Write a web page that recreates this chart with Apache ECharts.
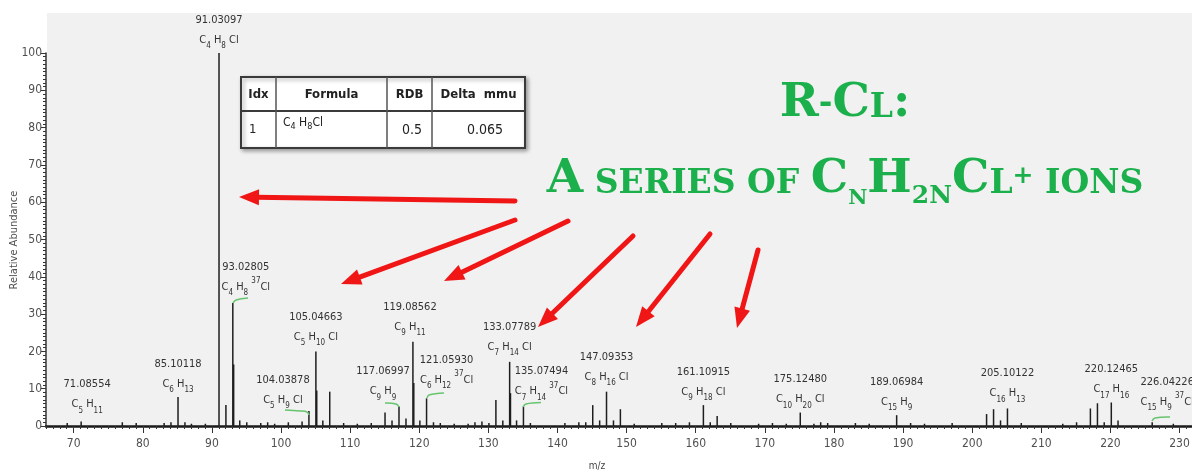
<!DOCTYPE html>
<html><head><meta charset="utf-8">
<script src="https://cdn.jsdelivr.net/npm/echarts@6/dist/echarts.min.js"></script>
<style>html,body{margin:0;padding:0;background:#fff}#c{width:1192px;height:472px}</style>
</head><body><div id="c"></div>
<script>
// ---------- data ----------
const peakMz = [69.07, 71.08554, 77.04, 79.05, 83.09, 84.08, 85.10118, 86.10, 87.04, 89.06, 91.03097, 92.03, 93.02805, 93.15, 94.03, 95.05, 97.07, 98.07, 99.08, 101.06, 103.05, 104.03878, 105.04663, 105.17, 106.05, 107.05, 109.06, 111.04, 113.06, 115.05, 116.06, 117.06997, 118.08, 119.08562, 119.21, 120.09, 121.05930, 122.06, 123.05, 125.06, 127.07, 128.06, 129.07, 130.08, 131.09, 132.09, 133.07789, 133.20, 134.08, 135.07494, 136.08, 141.07, 143.09, 144.09, 145.10, 146.10, 147.09353, 148.10, 149.10, 151.10, 155.09, 157.10, 159.09, 161.10915, 162.10, 163.10, 165.07, 169.10, 171.10, 173.10, 175.12480, 177.10, 178.08, 179.09, 183.10, 185.10, 189.06984, 191.09, 193.10, 197.10, 202.08, 203.09, 204.10, 205.10122, 207.10, 213.10, 215.10, 217.10, 218.12, 219.10, 220.12465, 221.10, 226.04226, 229.10];
const peakAbundance = [0.8, 1.2, 1.0, 0.8, 0.8, 1.0, 7.8, 1.0, 0.6, 0.6, 100, 5.6, 33, 16.5, 1.5, 1.0, 0.8, 1.0, 0.6, 1.0, 1.2, 4.0, 20, 9.5, 1.5, 9.2, 0.8, 0.6, 0.8, 3.6, 1.5, 5.2, 2.0, 22.6, 11.5, 1.5, 7.4, 1.0, 0.8, 0.6, 0.6, 1.0, 1.2, 0.8, 7.0, 1.5, 17.2, 8.8, 1.5, 5.2, 0.8, 0.8, 1.0, 1.0, 5.6, 1.5, 9.2, 1.5, 4.5, 0.6, 0.8, 0.8, 1.0, 5.6, 1.0, 2.7, 0.8, 0.6, 0.8, 0.6, 3.6, 0.6, 1.0, 0.8, 0.8, 0.6, 2.9, 0.8, 0.6, 0.8, 3.2, 4.5, 1.5, 4.7, 0.8, 0.6, 1.0, 4.7, 6.1, 1.0, 6.3, 1.5, 1.0, 0.6];

const labelMz = [71.08554, 85.10118, 91.03097, 93.02805, 104.03878, 105.04663, 117.06997, 119.08562, 121.05930, 133.07789, 135.07494, 147.09353, 161.10915, 175.12480, 189.06984, 205.10122, 220.12465, 226.04226];
const labelMass = ['71.08554', '85.10118', '91.03097', '93.02805', '104.03878', '105.04663', '117.06997', '119.08562', '121.05930', '133.07789', '135.07494', '147.09353', '161.10915', '175.12480', '189.06984', '205.10122', '220.12465', '226.04226'];
const labelFormula = ['C5 H11', 'C6 H13', 'C4 H8 Cl', 'C4 H8 37Cl', 'C5 H9 Cl', 'C5 H10 Cl', 'C9 H9', 'C9 H11', 'C6 H12 37Cl', 'C7 H14 Cl', 'C7 H14 37Cl', 'C8 H16 Cl', 'C9 H18 Cl', 'C10 H20 Cl', 'C15 H9', 'C16 H13', 'C17 H16', 'C15 H9 37Cl'];

const xTickValues = [70, 80, 90, 100, 110, 120, 130, 140, 150, 160, 170, 180, 190, 200, 210, 220, 230];
const yTickValues = [0, 10, 20, 30, 40, 50, 60, 70, 80, 90, 100];

const tableHeader = ['Idx', 'Formula', 'RDB', 'Delta  mmu'];
const tableRow = ['1', 'C4 H8Cl', '0.5', '0.065'];

// ---------- layout / style (annotation positions) ----------
const labelOffset = [[6,-2],[0,2],[0,2],[13,-1],[-26,4],[0,1],[-16,0],[-3,0],[20,-3],[0,0],[18,0],[0,0],[0,2],[0,2],[0,2],[0,0],[0,2],[15,-5]];
const arrowSegs = [[515,201,239,197],[515,220,341,284],[568,221,444,281],[633,236,538,327],[710,234,636,327],[758,250,737,328]];
const greenBrackets = [
  [[233,303],[236,300],[248,298]],
  [[285,410],[300,411],[307,412],[309,415]],
  [[385,403],[396,404],[399,407]],
  [[427,398],[429,395],[444,393]],
  [[523,407],[526,404],[541,402.5]],
  [[1152,421],[1155,418],[1170,417]]
];

const NARROW = "'Liberation Sans Narrow','Arial Narrow','DejaVu Sans Condensed',sans-serif";
const GREEN = '#1cb04c';
const RED = '#f01616';
const INK = '#333333';

// formula -> rich text: trailing digits subscript, leading digits (isotope) superscript
function formulaRich(f, base, sub, sup) {
  return f.split(' ').map((tok, i) => {
    const pre = i ? ' ' : '';
    let out = '';
    const parts = tok.match(/\d+|\D+/g);
    parts.forEach((p, k) => {
      const isNum = /^\d+$/.test(p);
      if (isNum) {
        const style = (k === 0) ? sup : sub;
        if (k === 0 && pre) out += `{${base}|${pre}}`;
        out += `{${style}|${p}}`;
      } else {
        out += `{${base}|${(k === 0 ? pre : '') + p}}`;
      }
    });
    return out;
  }).join('');
}

const labelRich = {
  m: {fontFamily: NARROW, fontSize: 11, lineHeight: 20, color: INK},
  f: {fontFamily: NARROW, fontSize: 11, lineHeight: 20, color: INK},
  s: {fontFamily: NARROW, fontSize: 8, lineHeight: 10, verticalAlign: 'bottom', color: INK},
  p: {fontFamily: NARROW, fontSize: 8, lineHeight: 12, verticalAlign: 'top', color: INK}
};

const barData = peakMz.map((mz, i) => {
  const item = {value: [mz, peakAbundance[i]]};
  const li = labelMz.indexOf(mz);
  if (li >= 0) {
    item.label = {
      show: true, position: 'top', distance: 5, offset: labelOffset[li], align: 'center',
      formatter: `{m|${labelMass[li]}}\n` + formulaRich(labelFormula[li], 'f', 's', 'p'),
      rich: labelRich
    };
  }
  return item;
});

// ---------- graphics ----------
const graphics = [];
graphics.push({type: 'rect', z: -100, silent: true, shape: {x: 47, y: 13, width: 1145, height: 413}, style: {fill: '#f1f1f1'}});

greenBrackets.forEach(pts => graphics.push({type: 'polyline', z: 50, silent: true, shape: {points: pts, smooth: 0.4}, style: {stroke: '#66c46e', lineWidth: 1.5, fill: null}}));

arrowSegs.forEach(([x1, y1, x2, y2]) => {
  const dx = x2 - x1, dy = y2 - y1, L = Math.hypot(dx, dy), ux = dx / L, uy = dy / L;
  const hl = 20, hw = 8;
  const bx = x2 - ux * hl, by = y2 - uy * hl;
  graphics.push({type: 'line', z: 60, silent: true, shape: {x1, y1, x2: bx + ux * 3, y2: by + uy * 3}, style: {stroke: RED, lineWidth: 5, lineCap: 'round'}});
  graphics.push({type: 'polygon', z: 60, silent: true, shape: {points: [[x2, y2], [bx - uy * hw, by + ux * hw], [bx + uy * hw, by - ux * hw]]}, style: {fill: RED}});
});

// table
const TX = 241, TY = 77, TW = 284, TH = 71, HR = 34;
const colX = [0, 35, 146, 191, 284];
const tbl = [];
tbl.push({type: 'rect', shape: {x: 0, y: 0, width: TW, height: TH}, style: {fill: '#fff', stroke: '#3a3a3a', lineWidth: 2, shadowBlur: 4, shadowColor: 'rgba(0,0,0,0.35)', shadowOffsetX: 2, shadowOffsetY: 2}});
tbl.push({type: 'line', shape: {x1: 0, y1: HR, x2: TW, y2: HR}, style: {stroke: '#3a3a3a', lineWidth: 2}});
[1, 2, 3].forEach(k => tbl.push({type: 'line', shape: {x1: colX[k], y1: 0, x2: colX[k], y2: TH}, style: {stroke: '#555', lineWidth: 1.5}}));
tableHeader.forEach((t, k) => tbl.push({type: 'text', x: (colX[k] + colX[k + 1]) / 2, y: HR / 2 + 1, style: {text: t, align: 'center', verticalAlign: 'middle', font: "bold 13px " + NARROW, fill: '#222'}}));
tbl.push({type: 'text', x: 8, y: 53, style: {text: tableRow[0], align: 'left', verticalAlign: 'middle', font: "13px " + NARROW, fill: '#222'}});
tbl.push({type: 'text', x: 42, y: 46, style: {text: formulaRich(tableRow[1], 'b', 'u', 'u'), align: 'left', verticalAlign: 'middle',
  rich: {b: {fontFamily: NARROW, fontSize: 12, lineHeight: 16, fill: '#222'}, u: {fontFamily: NARROW, fontSize: 9, lineHeight: 12, verticalAlign: 'bottom', fill: '#222'}}}});
tbl.push({type: 'text', x: 181, y: 53, style: {text: tableRow[2], align: 'right', verticalAlign: 'middle', font: "14px " + NARROW, fill: '#222'}});
tbl.push({type: 'text', x: 262, y: 53, style: {text: tableRow[3], align: 'right', verticalAlign: 'middle', font: "14px " + NARROW, fill: '#222'}});
graphics.push({type: 'group', x: TX, y: TY, z: 40, silent: true, children: tbl});

// title
const SERIF = "'DejaVu Serif',serif";
const titleRich = {
  B: {fontFamily: SERIF, fontWeight: 'bold', fontSize: 47, lineHeight: 54, fill: GREEN, verticalAlign: 'middle'},
  S: {fontFamily: SERIF, fontWeight: 'bold', fontSize: 33, lineHeight: 40, fill: GREEN, verticalAlign: 'bottom', padding: [0, 0, 6, 0]},
  h: {fontFamily: SERIF, fontWeight: 'bold', fontSize: 33, lineHeight: 40, fill: GREEN, verticalAlign: 'middle'},
  n: {fontFamily: SERIF, fontWeight: 'bold', fontSize: 21, lineHeight: 16, fill: GREEN, verticalAlign: 'top', padding: [35, 0, 0, 0]},
  n2: {fontFamily: SERIF, fontWeight: 'bold', fontSize: 25, lineHeight: 20, fill: GREEN, verticalAlign: 'top', padding: [31, 0, 0, 0]},
  p: {fontFamily: SERIF, fontWeight: 'bold', fontSize: 25, lineHeight: 36, fill: GREEN, verticalAlign: 'top', padding: [11, 0, 0, 0]}
};
graphics.push({type: 'text', x: 845, y: 104, z: 30, silent: true, style: {text: '{B|R}{h|-}{B|C}{S|L}{B|:}', rich: titleRich, align: 'center', verticalAlign: 'middle'}});
graphics.push({type: 'text', x: 845, y: 180, z: 30, silent: true, style: {text: '{B|A}{S| SERIES OF }{B|C}{n|N}{B|H}{n2|2N}{B|C}{S|L}{p|+}{S| IONS}', rich: titleRich, align: 'center', verticalAlign: 'middle'}});

// axis names
graphics.push({type: 'text', x: 597, y: 466, silent: true, style: {text: 'm/z', align: 'center', verticalAlign: 'middle', font: "10px " + NARROW, fill: '#444'}});
graphics.push({type: 'text', x: 14, y: 240, rotation: Math.PI / 2, silent: true, style: {text: 'Relative Abundance', align: 'center', verticalAlign: 'middle', font: "11px " + NARROW, fill: '#505050'}});

// ---------- chart ----------
const chart = echarts.init(document.getElementById('c'), null, {renderer: 'canvas'});
const XMIN = 66, XMAX = 231.8;
chart.setOption({
  animation: false,
  backgroundColor: '#ffffff',
  grid: {left: 46, right: 0, top: 53, bottom: 46, outerBoundsMode: 'none', containLabel: false},
  xAxis: [
    {type: 'value', min: XMIN, max: XMAX, interval: 1, position: 'bottom',
     axisLine: {show: true, onZero: false, lineStyle: {color: '#1a1a1a', width: 2.5}},
     axisTick: {show: true, length: 3, lineStyle: {color: '#333', width: 1}},
     axisLabel: {show: false}, splitLine: {show: false}},
    {type: 'value', min: XMIN, max: XMAX, position: 'bottom', offset: 0,
     axisLine: {show: false},
     axisTick: {show: true, length: 7, customValues: xTickValues, lineStyle: {color: '#333', width: 1}},
     axisLabel: {show: true, customValues: xTickValues, margin: 12, fontFamily: NARROW, fontSize: 12, color: '#505050'},
     splitLine: {show: false}}
  ],
  yAxis: {type: 'value', min: 0, max: 100, interval: 10,
    axisLine: {show: true, lineStyle: {color: '#333', width: 1.5}},
    axisTick: {show: true, length: 5, lineStyle: {color: '#333'}},
    minorTick: {show: true, splitNumber: 10, length: 3, lineStyle: {color: '#333'}},
    axisLabel: {margin: 4, fontFamily: NARROW, fontSize: 12, color: '#505050'},
    splitLine: {show: false}, minorSplitLine: {show: false}},
  series: [{
    type: 'bar', xAxisIndex: 0, yAxisIndex: 0, barWidth: 1.5, clip: false,
    itemStyle: {color: '#1e1e1e'},
    data: barData, z: 10
  }],
  graphic: graphics
});
</script></body></html>
